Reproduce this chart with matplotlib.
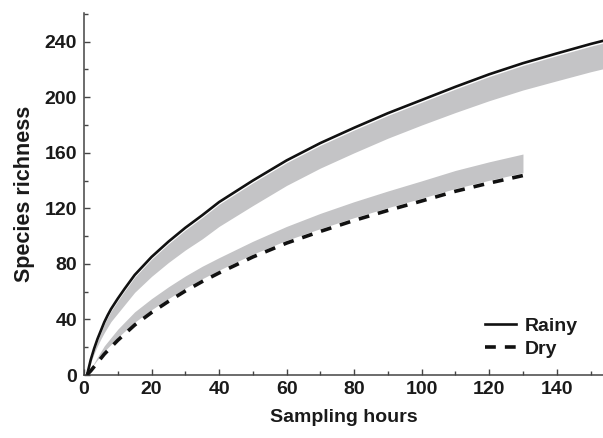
"""Species accumulation curves (rainy vs dry season) with grey confidence bands."""

import matplotlib

matplotlib.use("Agg")
import matplotlib.pyplot as plt
import numpy as np
from matplotlib.ticker import MultipleLocator

plt.rcParams["font.family"] = ["Liberation Sans", "DejaVu Sans"]
plt.rcParams["font.weight"] = "bold"

# values
rainy_hours = [1, 2, 3, 4, 5, 6, 7, 8, 10, 12, 15, 20, 25, 30, 35, 40, 50, 60, 70, 80, 90,
               100, 110, 120, 130, 140, 150, 156]
rainy_richness = [1, 11, 19, 26, 32, 38, 43, 47.5, 55, 62, 72, 85, 96, 106, 115, 124.5, 140, 154.5,
                  167, 178, 188.5, 198, 207.5, 216.5, 224.5, 231.5, 238.3, 242]
rainy_band_width = [0, 2, 3.5, 5, 6, 7.5, 8.5, 9, 10.5, 11.5, 12.5, 14, 15, 16, 17, 17.5, 18, 18,
                    18, 18, 18, 18, 18.5, 19, 19.3, 19.7, 20, 20.2]

dry_hours = [1, 2, 4, 6, 10, 15, 20, 25, 30, 35, 40, 50, 60, 70, 80, 90, 100, 110, 120, 130]
dry_richness = [0.5, 3, 9, 15, 25, 36, 45, 53, 60.5, 67.3, 73.5, 85, 95, 103.4, 111.3, 118.5,
                125.3, 132.3, 138.2, 143.6]
dry_band_width = [0, 1.5, 4, 6, 8, 9.5, 10, 10.5, 10.8, 11, 11, 11.3, 12, 13, 13.5, 14, 14.5,
                  15, 15.3, 15.5]

band_color = "#c4c4c6"
spine_color = "#444444"
text_color = "#1a1a1a"

fig = plt.figure(figsize=(6.03, 4.38), dpi=100)
ax = fig.add_axes([0.1393, 0.1438, 0.8607, 0.8258])

rainy_x = np.array(rainy_hours)
rainy_y = np.array(rainy_richness)
rainy_w = np.array(rainy_band_width)
ax.fill_between(rainy_x, rainy_y - rainy_w, rainy_y - np.minimum(rainy_w, 1.6),
                color=band_color, linewidth=0, zorder=1)

dry_x = np.array(dry_hours)
dry_y = np.array(dry_richness)
dry_w = np.array(dry_band_width)
ax.fill_between(dry_x, dry_y + np.minimum(dry_w, 2.0), dry_y + dry_w,
                color=band_color, linewidth=0, zorder=1)

ax.plot(rainy_x, rainy_y, color="#111111", linewidth=1.9, label="Rainy", zorder=3)
ax.plot(dry_x, dry_y, color="#111111", linewidth=2.6, dashes=(3.0, 2.5), label="Dry", zorder=3)

ax.set_xlim(0, 153.7)
ax.set_ylim(0, 260.4)
ax.xaxis.set_major_locator(MultipleLocator(20))
ax.xaxis.set_minor_locator(MultipleLocator(10))
ax.yaxis.set_minor_locator(MultipleLocator(20))
ax.set_yticks([0, 40, 80, 120, 160, 200, 240])

for side in ["top", "right"]:
    ax.spines[side].set_visible(False)
for side in ["left", "bottom"]:
    ax.spines[side].set_color(spine_color)
    ax.spines[side].set_linewidth(1.1)

ax.tick_params(which="both", direction="in", color=spine_color, width=1.0,
               labelsize=14, labelcolor=text_color)
ax.tick_params(which="major", length=4)
ax.tick_params(which="minor", length=3)
ax.tick_params(axis="y", pad=5)
ax.tick_params(axis="x", pad=4)

ax.set_xlabel("Sampling hours", fontsize=14, fontweight="bold", color=text_color, labelpad=8)
ax.set_ylabel("Species richness", fontsize=15.5, fontweight="bold", color=text_color, labelpad=7)

leg = ax.legend(loc="lower right", bbox_to_anchor=(0.985, 0.0), frameon=False,
                fontsize=14, handlelength=1.6, handletextpad=0.45, labelspacing=0.25)
for text in leg.get_texts():
    text.set_fontweight("bold")
    text.set_color(text_color)

fig.savefig("out.png", dpi=100)
